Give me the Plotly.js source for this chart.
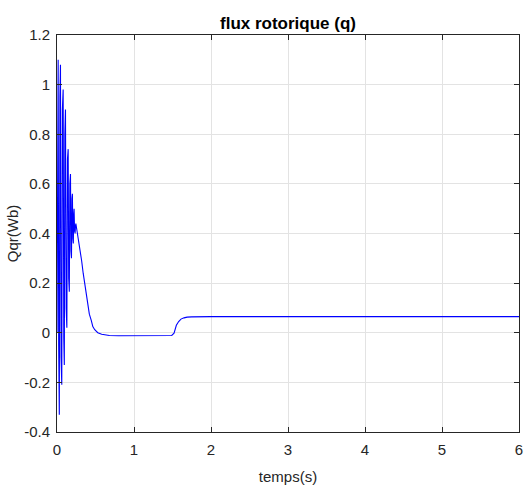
<!DOCTYPE html>
<html>
<head>
<meta charset="utf-8">
<script src="https://cdn.plot.ly/plotly-3.0.1.min.js"></script>
<style>html,body{margin:0;padding:0;background:#fff;}#chart{width:525px;height:488px;}</style>
</head>
<body>
<div id="chart"></div>
<script>
const timeS = [0, 0.008, 0.015, 0.022, 0.03, 0.038, 0.045, 0.053, 0.062, 0.07, 0.08, 0.088, 0.095, 0.102, 0.11, 0.119, 0.128, 0.136, 0.145, 0.152, 0.16, 0.167, 0.175, 0.181, 0.188, 0.194, 0.2, 0.206, 0.212, 0.217, 0.222, 0.228, 0.235, 0.24, 0.245, 0.26, 0.275, 0.3, 0.32, 0.34, 0.36, 0.38, 0.4, 0.42, 0.445, 0.465, 0.49, 0.53, 0.58, 0.68, 0.8, 1.0, 1.2, 1.4, 1.49, 1.52, 1.55, 1.58, 1.61, 1.65, 1.69, 1.75, 1.85, 2, 3, 4, 5, 6];
const qqr = [0, 0.85, 1.10, -0.05, -0.33, 0.95, 1.08, -0.10, -0.21, 0.90, 0.98, -0.02, -0.13, 0.80, 0.90, 0.10, 0.02, 0.70, 0.74, 0.22, 0.165, 0.60, 0.64, 0.33, 0.30, 0.54, 0.56, 0.38, 0.36, 0.48, 0.50, 0.41, 0.40, 0.43, 0.44, 0.41, 0.38, 0.34, 0.29, 0.24, 0.20, 0.16, 0.105, 0.075, 0.05, 0.025, 0.012, 0.0, -0.006, -0.011, -0.012, -0.012, -0.012, -0.012, -0.011, -0.002, 0.03, 0.045, 0.055, 0.06, 0.063, 0.064, 0.065, 0.065, 0.065, 0.065, 0.065, 0.065];
const xTickVals = [0, 1, 2, 3, 4, 5, 6];
const xTickText = ['0', '1', '2', '3', '4', '5', '6'];
const yTickVals = [-0.4, -0.2, 0, 0.2, 0.4, 0.6, 0.8, 1, 1.2];
const yTickText = ['-0.4', '-0.2', '0', '0.2', '0.4', '0.6', '0.8', '1', '1.2'];

const font = 'Liberation Sans, Arial, sans-serif';
const axisCommon = {
  showline: true, mirror: 'ticks', linecolor: '#262626', linewidth: 1,
  ticks: 'inside', ticklen: 5, tickcolor: '#262626',
  showgrid: true, gridcolor: '#e3e3e3', gridwidth: 1,
  zeroline: false, tickfont: {family: font, size: 15, color: '#262626'}
};
Plotly.newPlot('chart', [{
  x: timeS, y: qqr, type: 'scatter', mode: 'lines',
  line: {color: 'rgb(0,0,255)', width: 1.1}
}], {
  width: 525, height: 488,
  margin: {l: 57, r: 6, t: 35, b: 56},
  paper_bgcolor: '#fff', plot_bgcolor: '#fff',
  showlegend: false,
  title: {text: '<b>flux rotorique (q)</b>', font: {family: font, size: 17, color: '#000'}, xref: 'paper', x: 0.5, xanchor: 'center', yref: 'container', y: 0.953, yanchor: 'middle'},
  xaxis: Object.assign({}, axisCommon, {range: [0, 6], tickvals: xTickVals, ticktext: xTickText, ticklabelstandoff: 4,
    title: {text: 'temps(s)', font: {family: font, size: 15, color: '#262626'}, standoff: 14}}),
  yaxis: Object.assign({}, axisCommon, {range: [-0.4, 1.2], tickvals: yTickVals, ticktext: yTickText, ticklabelstandoff: 3,
    title: {text: 'Qqr(Wb)', font: {family: font, size: 15, color: '#262626'}, standoff: 1}})
}, {displayModeBar: false, staticPlot: true});
</script>
</body>
</html>
